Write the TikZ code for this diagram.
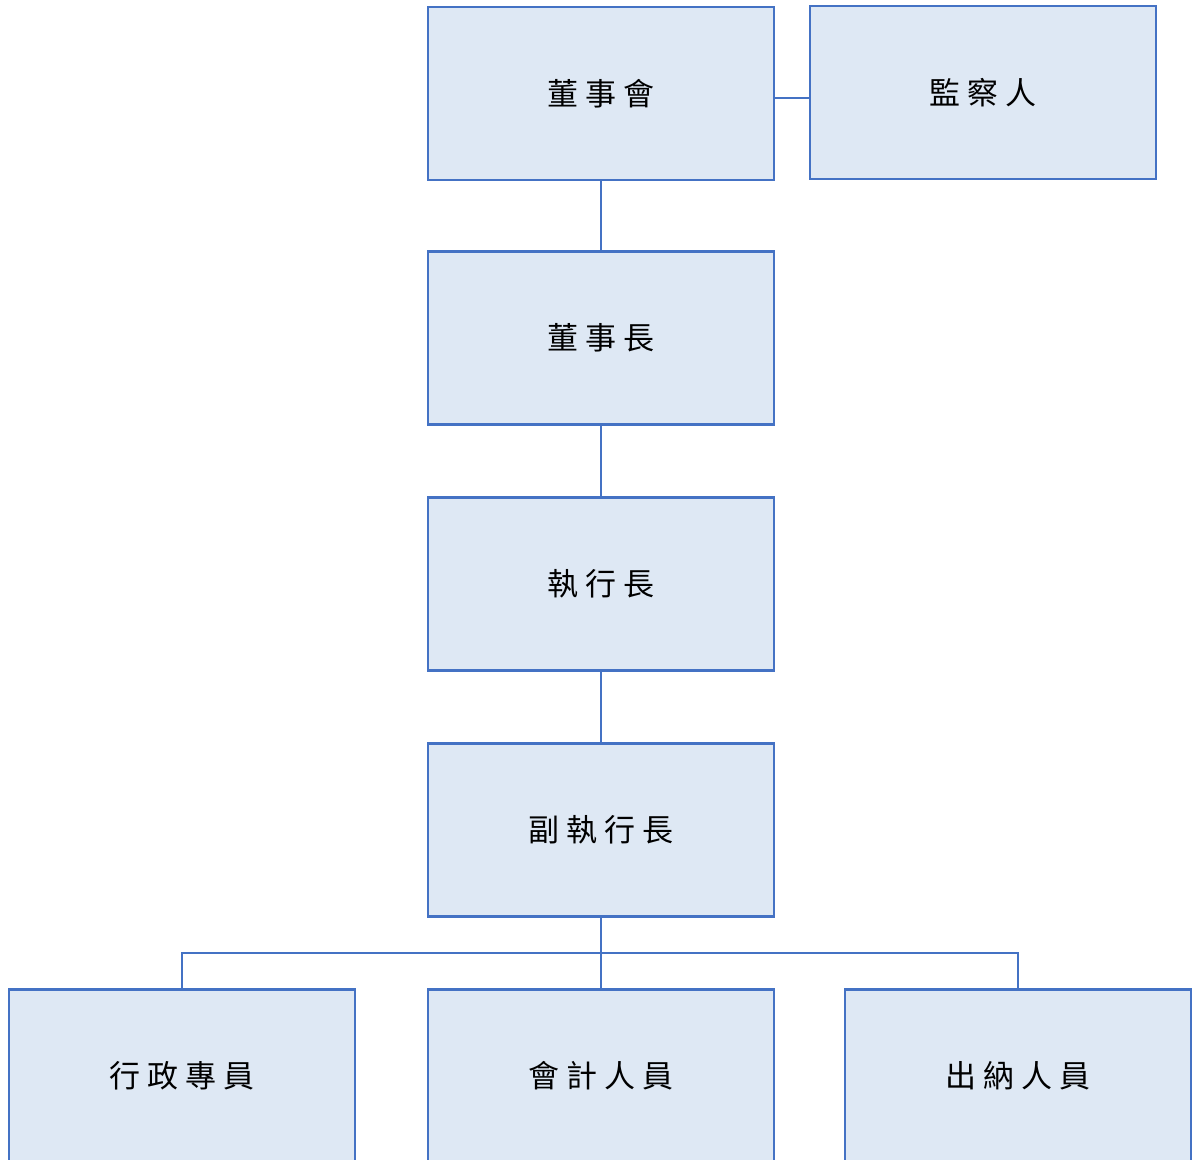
\documentclass[tikz,border=0pt]{standalone}
\usepackage{fontspec}
\newfontfamily\cjk[LetterSpace=22]{Noto Sans CJK TC}
\definecolor{boxline}{HTML}{4472C4}
\definecolor{boxfill}{HTML}{DEE8F4}
\begin{document}
\begin{tikzpicture}[x=0.5pt,y=-0.5pt,
  orgbox/.style={draw=boxline,fill=boxfill,line width=1.25pt,minimum width=173pt,minimum height=86.5pt,inner sep=0pt,font=\cjk\fontsize{15.5}{18}\selectfont},
  link/.style={draw=boxline,line width=1.25pt}]
\useasboundingbox (0,0) rectangle (1195,1160);
\clip (0,0) rectangle (1195,1160);
\node[orgbox] (board) at (601,93.5) {董事會};
\node[orgbox] (sup) at (983,92.5) {監察人};
\node[orgbox] (chair) at (601,338) {董事長};
\node[orgbox] (ceo) at (601,584) {執行長};
\node[orgbox] (dceo) at (601,830) {副執行長};
\node[orgbox,anchor=north] (admin) at (182,988) {行政專員};
\node[orgbox,anchor=north] (acct) at (601,988) {會計人員};
\node[orgbox,anchor=north] (cash) at (1018,988) {出納人員};
\coordinate (tie) at (792,98);
\draw[link] (board.east |- tie) -- (sup.west |- tie);
\draw[link] (board) -- (chair);
\draw[link] (chair) -- (ceo);
\draw[link] (ceo) -- (dceo);
\coordinate (bus) at (601,953);
\draw[link] (dceo.south) -- (acct.north);
\draw[link] (admin.north) -- (admin.north |- bus) -- (cash.north |- bus) -- (cash.north);
\end{tikzpicture}
\end{document}
